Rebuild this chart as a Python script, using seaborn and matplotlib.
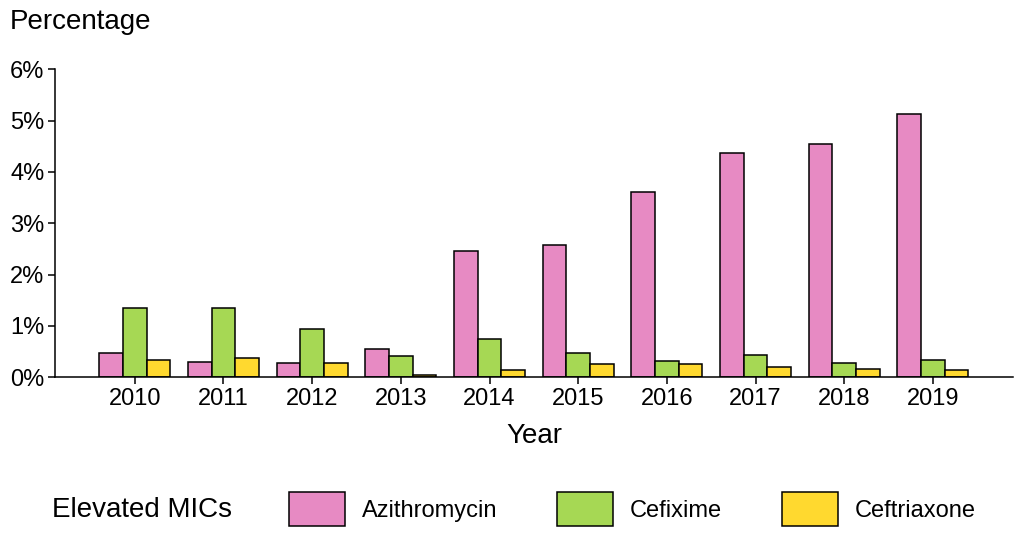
import matplotlib
matplotlib.use("Agg")
import matplotlib.pyplot as plt
import seaborn as sns
import pandas as pd
from matplotlib.patches import Patch
from matplotlib.ticker import FuncFormatter, MultipleLocator

years = ["2010", "2011", "2012", "2013", "2014", "2015", "2016", "2017", "2018", "2019"]
azithromycin = [0.47, 0.29, 0.27, 0.54, 2.45, 2.58, 3.61, 4.37, 4.54, 5.13]
cefixime = [1.35, 1.35, 0.94, 0.41, 0.74, 0.48, 0.32, 0.43, 0.28, 0.33]
ceftriaxone = [0.33, 0.375, 0.27, 0.04, 0.13, 0.26, 0.26, 0.19, 0.16, 0.14]
drugs = ["Azithromycin", "Cefixime", "Ceftriaxone"]
colors = ["#E78AC3", "#A6D854", "#FFD92F"]

rows = []
for name, vals in zip(drugs, [azithromycin, cefixime, ceftriaxone]):
    for y, v in zip(years, vals):
        rows.append({"Year": y, "Drug": name, "Pct": v})
df = pd.DataFrame(rows)

sns.set_style("ticks")
plt.rcParams["font.family"] = ["Liberation Sans", "DejaVu Sans"]
plt.rcParams["text.color"] = "black"

fig = plt.figure(figsize=(10.24, 5.49), dpi=100)
ax = fig.add_axes([0.0537, 0.313, 0.989 - 0.0537, 0.874 - 0.313])
sns.barplot(data=df, x="Year", y="Pct", hue="Drug", hue_order=drugs,
            palette=colors, edgecolor="black", linewidth=1.1, width=0.8,
            saturation=1, ax=ax, legend=False)

ax.set_xlim(-0.9, 9.9)
ax.set_ylim(0, 6)
ax.yaxis.set_major_locator(MultipleLocator(1))
ax.yaxis.set_major_formatter(FuncFormatter(lambda v, p: f"{int(round(v))}%"))
ax.tick_params(axis="both", labelsize=17, length=5, width=1.1, color="black",
               labelcolor="black", pad=2.5)
for s in ["left", "bottom"]:
    ax.spines[s].set_linewidth(1.1)
    ax.spines[s].set_color("black")
sns.despine(ax=ax)
ax.set_ylabel("")
ax.set_xlabel("Year", fontsize=20, labelpad=10, color="black")

fig.text(10 / 1024, 1 - 22 / 549, "Percentage", fontsize=20, ha="left", va="center", color="black")

handles = [Patch(facecolor=c, edgecolor="black", linewidth=1.1) for c in colors]
fig.text(52 / 1024, 1 - 510 / 549, "Elevated MICs", fontsize=20, ha="left", va="center", color="black")
fig.legend(handles, drugs, loc="center left", bbox_to_anchor=(289 / 1024, 1 - 509 / 549),
           ncol=3, frameon=False, fontsize=17, handlelength=2.37, handleheight=1.8,
           handletextpad=0.72, columnspacing=2.52, borderaxespad=0, borderpad=0,
           labelcolor="black")

fig.savefig("out.png", dpi=100)
